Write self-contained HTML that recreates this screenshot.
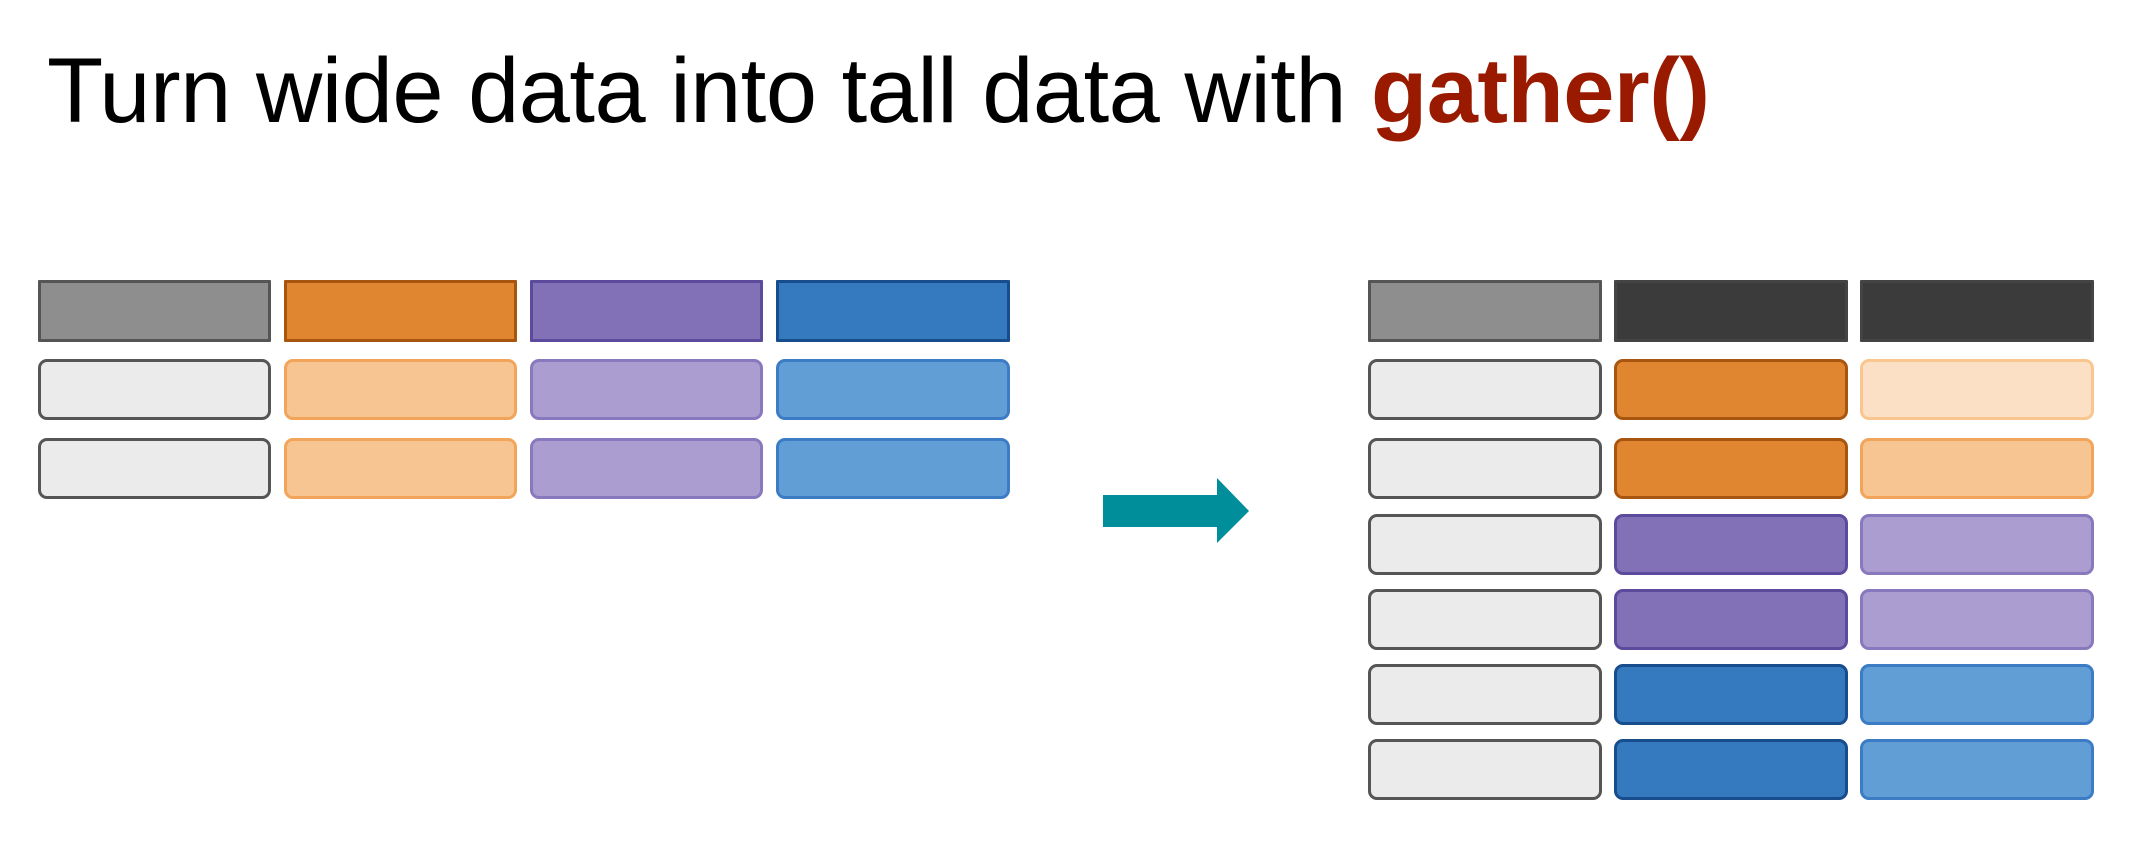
<!DOCTYPE html>
<html><head><style>
body{margin:0;width:2134px;height:866px;background:#fff;position:relative;overflow:hidden;font-family:"Liberation Sans",sans-serif}
.t{position:absolute;left:47px;top:36px;font-size:92px;line-height:110px;color:#000;white-space:nowrap;letter-spacing:-0.5px}
.t b{color:#9a1a00}
.b{position:absolute;box-sizing:border-box;border:3px solid}
.h{border-radius:1px}
.r{border-radius:9px}
</style></head><body>
<div class="t">Turn wide data into tall data with <b>gather()</b></div>
<!-- left table -->
<div class="b h" style="left:38px;top:280px;width:233px;height:62px;background:#8e8e8e;border-color:#555"></div>
<div class="b h" style="left:284px;top:280px;width:233px;height:62px;background:#e08631;border-color:#a8560f"></div>
<div class="b h" style="left:530px;top:280px;width:233px;height:62px;background:#8371b8;border-color:#5c4a9c"></div>
<div class="b h" style="left:776px;top:280px;width:234px;height:62px;background:#3579be;border-color:#174d8c"></div>
<div class="b r" style="left:38px;top:359px;width:233px;height:61px;background:#ebebeb;border-color:#555"></div>
<div class="b r" style="left:284px;top:359px;width:233px;height:61px;background:#f7c592;border-color:#f2a55a"></div>
<div class="b r" style="left:530px;top:359px;width:233px;height:61px;background:#ab9dcf;border-color:#8878be"></div>
<div class="b r" style="left:776px;top:359px;width:234px;height:61px;background:#629ed6;border-color:#3b7cc4"></div>
<div class="b r" style="left:38px;top:438px;width:233px;height:61px;background:#ebebeb;border-color:#555"></div>
<div class="b r" style="left:284px;top:438px;width:233px;height:61px;background:#f7c592;border-color:#f2a55a"></div>
<div class="b r" style="left:530px;top:438px;width:233px;height:61px;background:#ab9dcf;border-color:#8878be"></div>
<div class="b r" style="left:776px;top:438px;width:234px;height:61px;background:#629ed6;border-color:#3b7cc4"></div>
<!-- arrow -->
<svg style="position:absolute;left:0;top:0" width="2134" height="866"><polygon points="1103,495 1217,495 1217,478 1249,511 1217,543 1217,527 1103,527" fill="#008e9b"/></svg>
<!-- right table -->
<div class="b h" style="left:1368px;top:280px;width:234px;height:62px;background:#8e8e8e;border-color:#555"></div>
<div class="b h" style="left:1614px;top:280px;width:234px;height:62px;background:#3b3b3b;border-color:#444"></div>
<div class="b h" style="left:1860px;top:280px;width:234px;height:62px;background:#3b3b3b;border-color:#444"></div>

<div class="b r" style="left:1368px;top:359px;width:234px;height:61px;background:#ebebeb;border-color:#555"></div>
<div class="b r" style="left:1614px;top:359px;width:234px;height:61px;background:#e08631;border-color:#a8560f"></div>
<div class="b r" style="left:1860px;top:359px;width:234px;height:61px;background:#fce0c5;border-color:#f9c690"></div>

<div class="b r" style="left:1368px;top:438px;width:234px;height:61px;background:#ebebeb;border-color:#555"></div>
<div class="b r" style="left:1614px;top:438px;width:234px;height:61px;background:#e08631;border-color:#a8560f"></div>
<div class="b r" style="left:1860px;top:438px;width:234px;height:61px;background:#f7c592;border-color:#f2a55a"></div>

<div class="b r" style="left:1368px;top:514px;width:234px;height:61px;background:#ebebeb;border-color:#555"></div>
<div class="b r" style="left:1614px;top:514px;width:234px;height:61px;background:#8371b8;border-color:#5c4a9c"></div>
<div class="b r" style="left:1860px;top:514px;width:234px;height:61px;background:#ab9dcf;border-color:#8878be"></div>

<div class="b r" style="left:1368px;top:589px;width:234px;height:61px;background:#ebebeb;border-color:#555"></div>
<div class="b r" style="left:1614px;top:589px;width:234px;height:61px;background:#8371b8;border-color:#5c4a9c"></div>
<div class="b r" style="left:1860px;top:589px;width:234px;height:61px;background:#ab9dcf;border-color:#8878be"></div>

<div class="b r" style="left:1368px;top:664px;width:234px;height:61px;background:#ebebeb;border-color:#555"></div>
<div class="b r" style="left:1614px;top:664px;width:234px;height:61px;background:#3579be;border-color:#174d8c"></div>
<div class="b r" style="left:1860px;top:664px;width:234px;height:61px;background:#629ed6;border-color:#3b7cc4"></div>

<div class="b r" style="left:1368px;top:739px;width:234px;height:61px;background:#ebebeb;border-color:#555"></div>
<div class="b r" style="left:1614px;top:739px;width:234px;height:61px;background:#3579be;border-color:#174d8c"></div>
<div class="b r" style="left:1860px;top:739px;width:234px;height:61px;background:#629ed6;border-color:#3b7cc4"></div>
</body></html>
